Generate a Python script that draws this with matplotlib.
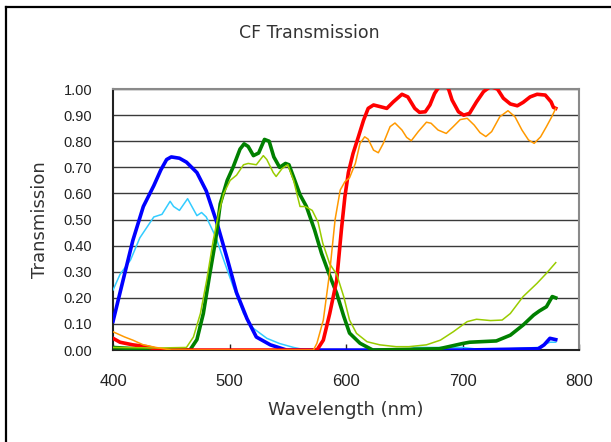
import matplotlib
matplotlib.use("Agg")
import matplotlib.pyplot as plt
from matplotlib.lines import Line2D

# wavelength (nm) / transmission
blue_wl = [400, 406, 417, 426, 435, 441, 446, 450, 457, 463, 472, 480, 489, 498, 506, 515, 523, 535, 549, 600, 700, 765, 770, 775, 780]
blue_t = [0.11, 0.22, 0.42, 0.55, 0.63, 0.69, 0.73, 0.74, 0.735, 0.72, 0.68, 0.61, 0.49, 0.35, 0.22, 0.12, 0.05, 0.02, 0.0, 0.0, 0.0, 0.005, 0.02, 0.045, 0.04]

cyan_wl = [400, 406, 415, 423, 435, 442, 449, 452, 457, 464, 472, 476, 480, 488, 495, 503, 512, 520, 532, 543, 555, 566, 650, 660, 700, 710, 740, 765, 775, 780]
cyan_t = [0.23, 0.29, 0.345, 0.43, 0.51, 0.52, 0.57, 0.55, 0.535, 0.58, 0.515, 0.527, 0.51, 0.435, 0.345, 0.245, 0.14, 0.085, 0.045, 0.025, 0.01, 0.0, 0.0, 0.01, 0.01, 0.005, 0.005, 0.01, 0.03, 0.03]

green_wl = [400, 420, 440, 466, 472, 477.5, 483, 488, 492, 498, 503, 509, 512.5, 516, 520.5, 525, 530, 534, 538, 543, 548, 551, 556, 560.5,
            566, 573, 579, 586, 592, 598, 603, 612, 623, 680, 700, 706, 729, 741, 752, 761, 766, 772, 777, 780]
green_t = [0.01, 0.005, 0.0, 0.0, 0.04, 0.14, 0.29, 0.42, 0.56, 0.65, 0.70, 0.77, 0.79, 0.78, 0.745, 0.755, 0.807, 0.80, 0.74, 0.70, 0.715, 0.71, 0.65, 0.595,
           0.55, 0.46, 0.37, 0.285, 0.217, 0.13, 0.065, 0.026, 0.0, 0.005, 0.025, 0.03, 0.035, 0.057, 0.096, 0.134, 0.15, 0.166, 0.205, 0.2]

yg_wl = [400, 440, 463, 469, 475, 480.5, 486, 490.5, 495, 500.5, 506, 512, 516, 523, 529, 532, 537.5, 540, 545, 550, 555, 560.5, 565, 571, 576, 580,
         586, 592, 598, 603, 609, 618, 629, 643, 654, 669, 681, 692, 704, 712, 724, 734, 741, 752, 764, 772, 780]
yg_t = [0.01, 0.008, 0.01, 0.05, 0.14, 0.27, 0.42, 0.52, 0.60, 0.65, 0.67, 0.71, 0.715, 0.71, 0.745, 0.73, 0.68, 0.665, 0.695, 0.71, 0.65, 0.55, 0.55, 0.535, 0.49, 0.41,
        0.33, 0.29, 0.205, 0.115, 0.064, 0.032, 0.02, 0.013, 0.013, 0.02, 0.038, 0.07, 0.109, 0.118, 0.113, 0.115, 0.14, 0.205, 0.256, 0.294, 0.335]

red_wl = [400, 406, 417, 429, 440, 575, 580.5, 586, 592, 596, 599, 602, 606, 610.6, 615, 619, 623.6, 629, 635, 640.6, 648, 653, 659, 663, 668, 672,
          676, 680, 684, 688, 691, 696.5, 701, 706, 712, 718, 724, 730, 735, 741, 747, 752, 758, 764, 771, 776, 778, 780]
red_t = [0.045, 0.03, 0.02, 0.013, 0.0, 0.0, 0.038, 0.14, 0.268, 0.46, 0.587, 0.68, 0.753, 0.817, 0.88, 0.926, 0.939, 0.933, 0.926, 0.951, 0.98, 0.97, 0.926, 0.911, 0.913, 0.939,
         0.983, 1.01, 1.02, 1.0, 0.958, 0.913, 0.9, 0.907, 0.951, 0.99, 1.01, 1.0, 0.965, 0.943, 0.936, 0.949, 0.97, 0.98, 0.977, 0.951, 0.93, 0.926]

orange_wl = [400, 410, 417, 426, 437, 450, 572, 575, 580.5, 586, 590.6, 595, 599, 603, 608, 612, 616, 619, 623.6, 627.7, 632, 637.8, 642, 648, 652, 656,
             662, 669, 673, 679, 686, 692, 698, 704, 710, 715, 720, 725, 732, 739, 745, 751, 756.6, 761.5, 767, 772, 776.6, 780]
orange_t = [0.07, 0.05, 0.038, 0.02, 0.01, 0.0, 0.0, 0.026, 0.115, 0.30, 0.50, 0.613, 0.645, 0.66, 0.715, 0.792, 0.817, 0.808, 0.766, 0.756, 0.792, 0.856, 0.87, 0.843, 0.815, 0.802,
            0.837, 0.873, 0.869, 0.843, 0.83, 0.856, 0.883, 0.888, 0.862, 0.833, 0.818, 0.837, 0.894, 0.917, 0.894, 0.843, 0.805, 0.792, 0.817, 0.856, 0.894, 0.926]

x_ticks = [400, 500, 600, 700, 800]
y_ticks = [0.0, 0.1, 0.2, 0.3, 0.4, 0.5, 0.6, 0.7, 0.8, 0.9, 1.0]

fig = plt.figure(figsize=(6.11, 4.42), dpi=100)
ax = fig.add_axes([0.185, 0.208, 0.7627, 0.5905])

# thin = measured, thick = spec (roughly)
ax.plot(cyan_wl, cyan_t, color="#33CCFF", lw=1.1, zorder=3)
ax.plot(blue_wl, blue_t, color="#0000FF", lw=2.6, zorder=3)
ax.plot(green_wl, green_t, color="#008000", lw=2.6, zorder=3)
ax.plot(yg_wl, yg_t, color="#99CC00", lw=1.1, zorder=4)
ax.plot(orange_wl, orange_t, color="#FF9900", lw=1.1, zorder=4)
ax.plot(red_wl, red_t, color="#FF0000", lw=2.6, zorder=3)

ax.set_xlim(400, 800)
ax.set_ylim(0, 1)
ax.set_xticks(x_ticks)
ax.set_yticks(y_ticks)
ax.set_yticklabels([f"{v:.2f}" for v in y_ticks])
ax.yaxis.grid(True, color="#3a3a3a", lw=1.0)
ax.set_axisbelow(True)

ax.tick_params(axis="x", direction="in", length=4, width=1, pad=17, labelsize=12, colors="#222222")
ax.tick_params(axis="y", length=0, pad=15, labelsize=10.5, colors="#222222")
for lab in ax.get_xticklabels() + ax.get_yticklabels():
    lab.set_fontfamily("Liberation Sans")

ax.spines["left"].set_color("#222222")
ax.spines["bottom"].set_color("#222222")
ax.spines["top"].set_color("#8a8a8a")
ax.spines["right"].set_color("#8a8a8a")
for s in ax.spines.values():
    s.set_linewidth(1.5)

fig.text(0.507, 0.925, "CF Transmission", ha="center", va="center", fontsize=12.5, color="#333333")
fig.text(0.566, 0.072, "Wavelength (nm)", ha="center", va="center", fontsize=13, color="#333333")
fig.text(0.066, 0.502, "Transmission", ha="center", va="center", rotation=90, fontsize=13, color="#333333")

# chart-area frame (only top and left edges fall inside the picture)
fig.add_artist(Line2D([0.0098, 0.0098], [0.0, 0.984], transform=fig.transFigure, color="black", lw=1.6))
fig.add_artist(Line2D([0.0098, 1.0], [0.984, 0.984], transform=fig.transFigure, color="black", lw=1.6))

fig.savefig("out.png", dpi=100)
